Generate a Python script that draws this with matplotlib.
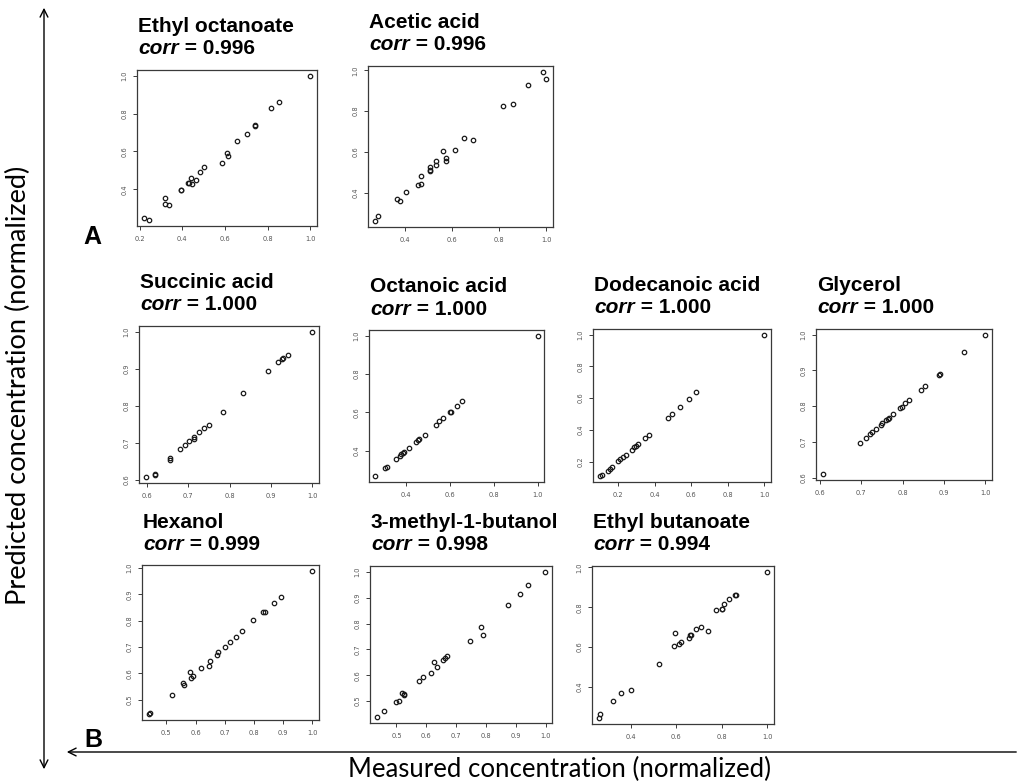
import matplotlib
matplotlib.use("Agg")
import matplotlib.pyplot as plt
from matplotlib.patches import FancyArrowPatch
from matplotlib.text import Annotation

# ---------------- data ----------------
compounds = ["Ethyl octanoate", "Acetic acid", "Succinic acid", "Octanoic acid",
             "Dodecanoic acid", "Glycerol", "Hexanol", "3-methyl-1-butanol",
             "Ethyl butanoate"]
corr_values = ["0.996", "0.996", "1.000", "1.000", "1.000", "1.000",
               "0.999", "0.998", "0.994"]

ethyl_octanoate_measured = [0.219, 0.246, 0.320, 0.318, 0.340, 0.392, 0.393, 0.427, 0.433,
                            0.441, 0.447, 0.463, 0.483, 0.504, 0.586, 0.608, 0.614, 0.658,
                            0.704, 0.740, 0.741, 0.814, 0.852, 1.000]
ethyl_octanoate_predicted = [0.246, 0.236, 0.352, 0.322, 0.315, 0.398, 0.396, 0.435, 0.433,
                             0.458, 0.426, 0.449, 0.493, 0.516, 0.540, 0.590, 0.574, 0.653,
                             0.690, 0.739, 0.736, 0.831, 0.859, 1.000]

acetic_acid_measured = [0.270, 0.285, 0.363, 0.376, 0.401, 0.454, 0.468, 0.467, 0.505, 0.506,
                        0.506, 0.532, 0.532, 0.559, 0.572, 0.572, 0.611, 0.650, 0.688, 0.818,
                        0.858, 0.923, 0.987, 1.000]
acetic_acid_predicted = [0.261, 0.287, 0.369, 0.361, 0.402, 0.436, 0.443, 0.482, 0.505, 0.511,
                         0.528, 0.536, 0.554, 0.605, 0.569, 0.557, 0.610, 0.670, 0.659, 0.826,
                         0.836, 0.926, 0.992, 0.959]

succinic_acid_measured = [0.597, 0.619, 0.619, 0.656, 0.656, 0.679, 0.691, 0.702, 0.715, 0.715,
                          0.727, 0.739, 0.751, 0.785, 0.833, 0.893, 0.916, 0.927, 0.928, 0.940,
                          1.000]
succinic_acid_predicted = [0.607, 0.616, 0.613, 0.659, 0.654, 0.683, 0.695, 0.705, 0.715, 0.711,
                           0.729, 0.739, 0.747, 0.784, 0.835, 0.895, 0.919, 0.926, 0.929, 0.936,
                           1.000]

octanoic_acid_measured = [0.261, 0.306, 0.314, 0.353, 0.373, 0.379, 0.385, 0.392, 0.415, 0.445,
                          0.455, 0.461, 0.485, 0.535, 0.552, 0.570, 0.600, 0.605, 0.632, 0.656,
                          1.000]
octanoic_acid_predicted = [0.267, 0.309, 0.315, 0.355, 0.374, 0.381, 0.388, 0.395, 0.416, 0.445,
                           0.455, 0.461, 0.483, 0.537, 0.554, 0.573, 0.601, 0.604, 0.632, 0.658,
                           1.000]

dodecanoic_acid_measured = [0.099, 0.113, 0.146, 0.157, 0.169, 0.202, 0.213, 0.227, 0.242, 0.274,
                            0.287, 0.298, 0.307, 0.347, 0.368, 0.471, 0.495, 0.538, 0.589, 0.625,
                            1.000]
dodecanoic_acid_predicted = [0.107, 0.116, 0.143, 0.154, 0.166, 0.206, 0.217, 0.232, 0.244, 0.276,
                             0.289, 0.299, 0.308, 0.348, 0.369, 0.474, 0.498, 0.546, 0.595, 0.639,
                             1.000]

glycerol_measured = [0.606, 0.696, 0.711, 0.721, 0.726, 0.736, 0.747, 0.751, 0.760, 0.764, 0.766,
                     0.777, 0.794, 0.797, 0.806, 0.815, 0.843, 0.853, 0.887, 0.890, 0.949, 1.000]
glycerol_predicted = [0.609, 0.697, 0.712, 0.722, 0.728, 0.736, 0.748, 0.752, 0.761, 0.765, 0.767,
                      0.778, 0.795, 0.797, 0.808, 0.816, 0.844, 0.855, 0.887, 0.890, 0.950, 1.000]

hexanol_measured = [0.439, 0.444, 0.519, 0.557, 0.559, 0.580, 0.585, 0.591, 0.619, 0.647, 0.648,
                    0.672, 0.678, 0.699, 0.717, 0.740, 0.759, 0.797, 0.832, 0.836, 0.868, 0.892,
                    1.000]
hexanol_predicted = [0.445, 0.450, 0.519, 0.564, 0.558, 0.605, 0.584, 0.592, 0.620, 0.630, 0.647,
                     0.669, 0.683, 0.702, 0.720, 0.740, 0.760, 0.802, 0.833, 0.833, 0.868, 0.889,
                     0.990]

methylbutanol_measured = [0.434, 0.459, 0.498, 0.507, 0.518, 0.526, 0.526, 0.574, 0.589, 0.616,
                          0.625, 0.636, 0.656, 0.663, 0.668, 0.745, 0.784, 0.791, 0.874, 0.913,
                          0.941, 0.998]
methylbutanol_predicted = [0.438, 0.460, 0.495, 0.501, 0.531, 0.528, 0.523, 0.577, 0.593, 0.610,
                           0.653, 0.633, 0.661, 0.668, 0.675, 0.733, 0.785, 0.755, 0.871, 0.915,
                           0.950, 1.000]

ethyl_butanoate_measured = [0.260, 0.265, 0.321, 0.356, 0.401, 0.524, 0.589, 0.595, 0.613, 0.623,
                            0.658, 0.661, 0.667, 0.686, 0.709, 0.741, 0.774, 0.801, 0.803, 0.811,
                            0.830, 0.860, 0.861, 1.000]
ethyl_butanoate_predicted = [0.242, 0.262, 0.326, 0.368, 0.382, 0.516, 0.606, 0.668, 0.614, 0.623,
                             0.645, 0.660, 0.661, 0.692, 0.702, 0.682, 0.786, 0.789, 0.793, 0.818,
                             0.843, 0.860, 0.862, 0.978]

x_ticks = [[0.2, 0.4, 0.6, 0.8, 1.0], [0.4, 0.6, 0.8, 1.0], [0.6, 0.7, 0.8, 0.9, 1.0],
           [0.4, 0.6, 0.8, 1.0], [0.2, 0.4, 0.6, 0.8, 1.0], [0.6, 0.7, 0.8, 0.9, 1.0],
           [0.5, 0.6, 0.7, 0.8, 0.9, 1.0], [0.5, 0.6, 0.7, 0.8, 0.9, 1.0], [0.4, 0.6, 0.8, 1.0]]
y_ticks = [[0.4, 0.6, 0.8, 1.0], [0.4, 0.6, 0.8, 1.0], [0.6, 0.7, 0.8, 0.9, 1.0],
           [0.4, 0.6, 0.8, 1.0], [0.2, 0.4, 0.6, 0.8, 1.0], [0.6, 0.7, 0.8, 0.9, 1.0],
           [0.5, 0.6, 0.7, 0.8, 0.9, 1.0], [0.5, 0.6, 0.7, 0.8, 0.9, 1.0], [0.4, 0.6, 0.8, 1.0]]

measured = [ethyl_octanoate_measured, acetic_acid_measured, succinic_acid_measured,
            octanoic_acid_measured, dodecanoic_acid_measured, glycerol_measured,
            hexanol_measured, methylbutanol_measured, ethyl_butanoate_measured]
predicted = [ethyl_octanoate_predicted, acetic_acid_predicted, succinic_acid_predicted,
             octanoic_acid_predicted, dodecanoic_acid_predicted, glycerol_predicted,
             hexanol_predicted, methylbutanol_predicted, ethyl_butanoate_predicted]

# ---------------- layout ----------------
W, H = 1020, 781
fig = plt.figure(figsize=(W / 100, H / 100), dpi=100)

# axes boxes in pixels: left, top, right, bottom
boxes = [(137, 70, 317, 226), (368, 66, 553, 227),
         (139, 326, 319, 483), (369, 330, 544, 482), (593, 329, 771, 482), (816, 329, 992, 480),
         (142, 565, 319, 720), (370, 566, 552, 723), (592, 566, 774, 724)]

TITLE_FONT = "Liberation Sans"
TITLE_SIZE = 15
spine_col = "#3a3a3a"

for i, (L, T, R, B) in enumerate(boxes):
    ax = fig.add_axes([L / W, 1 - B / H, (R - L) / W, (B - T) / H])
    ax.plot(measured[i], predicted[i], linestyle="none", marker="o", markersize=3.2,
            markerfacecolor="none", markeredgecolor="#1a1a1a", markeredgewidth=0.9)
    ax.margins(0.04)
    ax.set_xticks(x_ticks[i])
    ax.set_yticks(y_ticks[i])
    ax.set_xticklabels([f"{v:.1f}" for v in x_ticks[i]])
    ax.set_yticklabels([f"{v:.1f}" for v in y_ticks[i]], rotation=90, va="center")
    ax.tick_params(axis="both", direction="out", length=3, width=0.7, color=spine_col,
                   labelsize=4.8, labelcolor="#555555", pad=4)
    for s in ax.spines.values():
        s.set_color(spine_col)
        s.set_linewidth(0.9)
    fig.text((L + 1) / W, 1 - (T - 43) / H, compounds[i], fontsize=TITLE_SIZE,
             fontweight="bold", family=TITLE_FONT, ha="left", va="center")
    t2 = fig.text((L + 1) / W, 1 - (T - 21) / H, "corr", fontsize=TITLE_SIZE,
                  fontweight="bold", fontstyle="italic", family=TITLE_FONT,
                  ha="left", va="center")
    fig.add_artist(Annotation(" = " + corr_values[i], xy=(1, 0), xycoords=t2,
                              va="bottom", ha="left", fontsize=TITLE_SIZE,
                              fontweight="bold", family=TITLE_FONT))

# panel letters
fig.text(92 / W, 1 - 237 / H, "A", fontsize=18, fontweight="bold", family=TITLE_FONT,
         ha="center", va="center")
fig.text(93 / W, 1 - 740 / H, "B", fontsize=18, fontweight="bold", family=TITLE_FONT,
         ha="center", va="center")

# arrows
fig.add_artist(FancyArrowPatch((44 / W, 1 - 5 / H), (44 / W, 1 - 772 / H),
                               transform=fig.transFigure, arrowstyle="<->",
                               mutation_scale=14, lw=1.0, color="black"))
fig.add_artist(FancyArrowPatch((1019 / W, 1 - 752 / H), (64 / W, 1 - 752 / H),
                               transform=fig.transFigure, arrowstyle="->",
                               mutation_scale=14, lw=1.0, color="black"))

fig.text(18 / W, 1 - 385 / H, "Predicted concentration (normalized)", rotation=90,
         fontsize=19.5, family="Lato", ha="center", va="center")
fig.text(560 / W, 1 - 769 / H, "Measured concentration (normalized)",
         fontsize=18.5, family="Lato", ha="center", va="center")

fig.savefig("out.png", dpi=100)
